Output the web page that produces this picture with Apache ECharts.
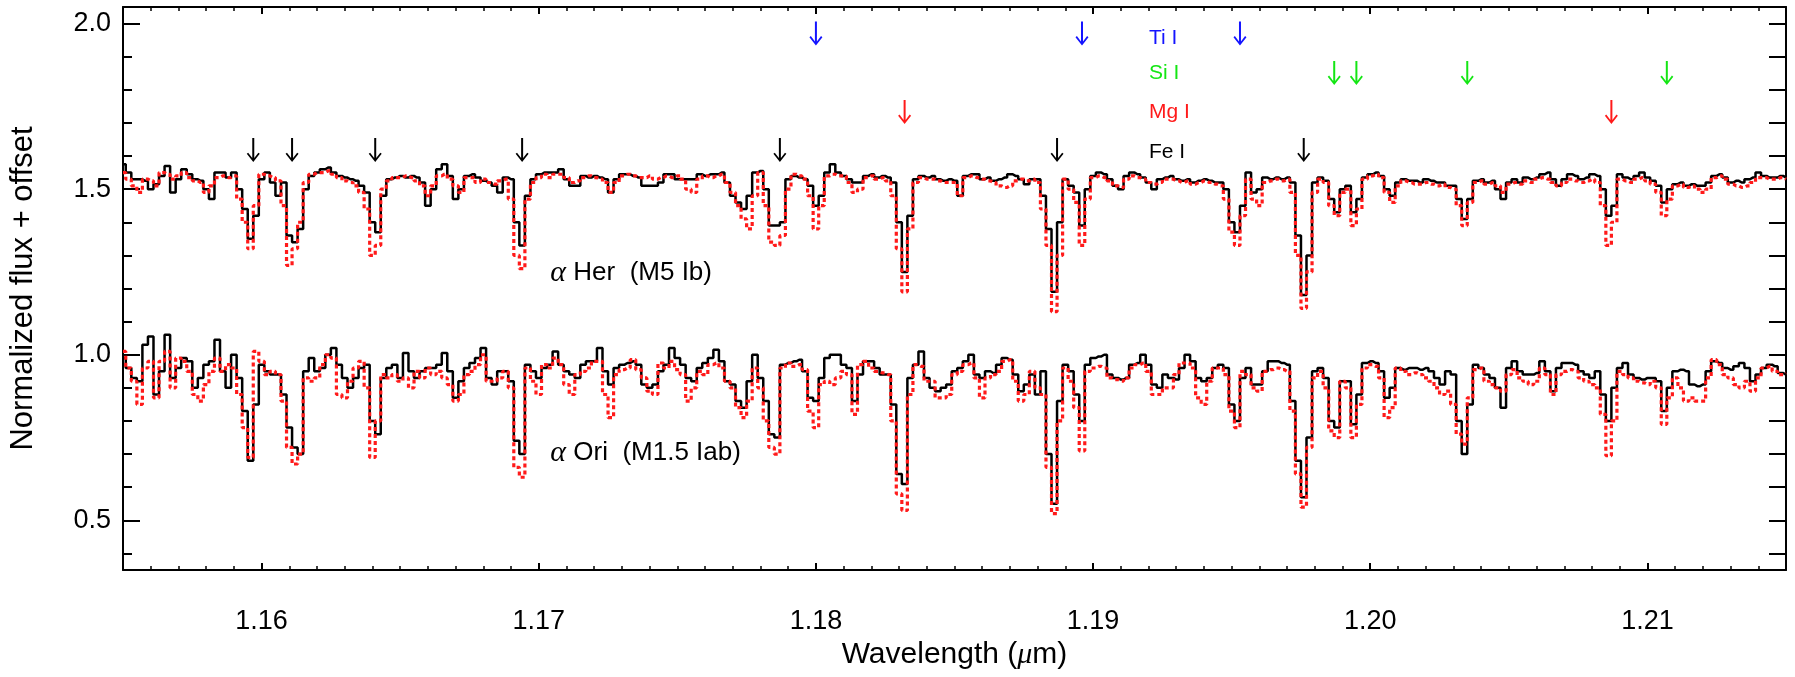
<!DOCTYPE html>
<html><head><meta charset="utf-8">
<script src="https://cdn.jsdelivr.net/npm/echarts/dist/echarts.min.js"></script>
<style>html,body{margin:0;padding:0;background:#fff}#c{width:1795px;height:677px}</style>
</head><body><div id="c"></div>
<script>
// Wavelength grid (micron)
const WAVELENGTH = [
1.1550,1.1552,1.1554,1.1556,1.1558,1.1560,1.1562,1.1564,1.1566,1.1568,
1.1570,1.1572,1.1574,1.1576,1.1578,1.1580,1.1582,1.1584,1.1586,1.1588,
1.1590,1.1592,1.1594,1.1596,1.1598,1.1600,1.1602,1.1604,1.1606,1.1608,
1.1610,1.1612,1.1614,1.1616,1.1618,1.1620,1.1622,1.1624,1.1626,1.1628,
1.1630,1.1632,1.1634,1.1636,1.1638,1.1640,1.1642,1.1644,1.1646,1.1648,
1.1650,1.1652,1.1654,1.1656,1.1658,1.1660,1.1662,1.1664,1.1666,1.1668,
1.1670,1.1672,1.1674,1.1676,1.1678,1.1680,1.1682,1.1684,1.1686,1.1688,
1.1690,1.1692,1.1694,1.1696,1.1698,1.1700,1.1702,1.1704,1.1706,1.1708,
1.1710,1.1712,1.1714,1.1716,1.1718,1.1720,1.1722,1.1724,1.1726,1.1728,
1.1730,1.1732,1.1734,1.1736,1.1738,1.1740,1.1742,1.1744,1.1746,1.1748,
1.1750,1.1752,1.1754,1.1756,1.1758,1.1760,1.1762,1.1764,1.1766,1.1768,
1.1770,1.1772,1.1774,1.1776,1.1778,1.1780,1.1782,1.1784,1.1786,1.1788,
1.1790,1.1792,1.1794,1.1796,1.1798,1.1800,1.1802,1.1804,1.1806,1.1808,
1.1810,1.1812,1.1814,1.1816,1.1818,1.1820,1.1822,1.1824,1.1826,1.1828,
1.1830,1.1832,1.1834,1.1836,1.1838,1.1840,1.1842,1.1844,1.1846,1.1848,
1.1850,1.1852,1.1854,1.1856,1.1858,1.1860,1.1862,1.1864,1.1866,1.1868,
1.1870,1.1872,1.1874,1.1876,1.1878,1.1880,1.1882,1.1884,1.1886,1.1888,
1.1890,1.1892,1.1894,1.1896,1.1898,1.1900,1.1902,1.1904,1.1906,1.1908,
1.1910,1.1912,1.1914,1.1916,1.1918,1.1920,1.1922,1.1924,1.1926,1.1928,
1.1930,1.1932,1.1934,1.1936,1.1938,1.1940,1.1942,1.1944,1.1946,1.1948,
1.1950,1.1952,1.1954,1.1956,1.1958,1.1960,1.1962,1.1964,1.1966,1.1968,
1.1970,1.1972,1.1974,1.1976,1.1978,1.1980,1.1982,1.1984,1.1986,1.1988,
1.1990,1.1992,1.1994,1.1996,1.1998,1.2000,1.2002,1.2004,1.2006,1.2008,
1.2010,1.2012,1.2014,1.2016,1.2018,1.2020,1.2022,1.2024,1.2026,1.2028,
1.2030,1.2032,1.2034,1.2036,1.2038,1.2040,1.2042,1.2044,1.2046,1.2048,
1.2050,1.2052,1.2054,1.2056,1.2058,1.2060,1.2062,1.2064,1.2066,1.2068,
1.2070,1.2072,1.2074,1.2076,1.2078,1.2080,1.2082,1.2084,1.2086,1.2088,
1.2090,1.2092,1.2094,1.2096,1.2098,1.2100,1.2102,1.2104,1.2106,1.2108,
1.2110,1.2112,1.2114,1.2116,1.2118,1.2120,1.2122,1.2124,1.2126,1.2128,
1.2130,1.2132,1.2134,1.2136,1.2138,1.2140,1.2142,1.2144,1.2146,1.2148,
1.2150];

// alpha Her (observed, black) + 0.5 offset
const HER_OBS = [
1.575,1.55,1.53,1.53,1.525,1.50,1.515,1.54,1.57,1.49,
1.53,1.56,1.545,1.53,1.525,1.50,1.47,1.55,1.55,1.535,
1.55,1.50,1.44,1.35,1.42,1.53,1.55,1.52,1.48,1.52,
1.36,1.34,1.38,1.50,1.54,1.55,1.56,1.565,1.55,1.54,
1.535,1.53,1.525,1.51,1.49,1.40,1.37,1.48,1.53,1.535,
1.54,1.535,1.54,1.535,1.52,1.45,1.50,1.56,1.575,1.54,
1.47,1.50,1.54,1.545,1.535,1.525,1.52,1.51,1.49,1.535,
1.53,1.40,1.33,1.48,1.53,1.545,1.55,1.55,1.55,1.56,
1.53,1.51,1.51,1.54,1.535,1.54,1.535,1.53,1.49,1.53,
1.545,1.545,1.54,1.535,1.51,1.51,1.51,1.52,1.545,1.545,
1.53,1.53,1.53,1.53,1.545,1.54,1.545,1.545,1.55,1.52,
1.48,1.46,1.44,1.48,1.55,1.555,1.50,1.39,1.39,1.40,
1.53,1.54,1.535,1.53,1.51,1.45,1.48,1.55,1.575,1.55,
1.54,1.53,1.52,1.52,1.54,1.545,1.535,1.54,1.535,1.52,
1.40,1.25,1.42,1.53,1.54,1.535,1.54,1.53,1.525,1.53,
1.525,1.48,1.54,1.545,1.545,1.53,1.535,1.525,1.53,1.535,
1.545,1.54,1.53,1.515,1.53,1.53,1.48,1.38,1.19,1.40,
1.53,1.51,1.49,1.39,1.50,1.54,1.55,1.545,1.53,1.51,
1.50,1.54,1.55,1.545,1.535,1.52,1.50,1.53,1.535,1.54,
1.53,1.525,1.53,1.52,1.525,1.53,1.525,1.52,1.52,1.50,
1.40,1.37,1.45,1.55,1.49,1.50,1.535,1.53,1.535,1.53,
1.535,1.52,1.36,1.18,1.30,1.52,1.535,1.525,1.47,1.43,
1.50,1.51,1.43,1.47,1.535,1.545,1.55,1.54,1.50,1.48,
1.52,1.53,1.525,1.525,1.52,1.53,1.525,1.52,1.52,1.51,
1.51,1.47,1.41,1.47,1.525,1.53,1.52,1.525,1.50,1.47,
1.52,1.53,1.52,1.535,1.53,1.535,1.545,1.55,1.53,1.51,
1.53,1.545,1.54,1.53,1.535,1.545,1.54,1.50,1.42,1.45,
1.545,1.535,1.53,1.54,1.55,1.535,1.525,1.51,1.46,1.50,
1.515,1.52,1.51,1.515,1.51,1.51,1.52,1.54,1.545,1.535,
1.52,1.525,1.52,1.53,1.535,1.55,1.54,1.535,1.535,1.54,
1.535];

// alpha Her (model, red dotted) + 0.5 offset
const HER_MODEL = [
1.55,1.53,1.51,1.49,1.53,1.525,1.51,1.55,1.545,1.53,
1.54,1.55,1.535,1.525,1.52,1.49,1.51,1.535,1.54,1.535,
1.54,1.47,1.40,1.32,1.45,1.545,1.54,1.535,1.525,1.45,
1.27,1.32,1.40,1.52,1.545,1.55,1.55,1.555,1.545,1.535,
1.525,1.52,1.51,1.49,1.44,1.30,1.33,1.50,1.525,1.535,
1.535,1.54,1.535,1.525,1.51,1.48,1.51,1.54,1.545,1.53,
1.51,1.49,1.535,1.535,1.52,1.53,1.52,1.515,1.525,1.53,
1.47,1.30,1.26,1.47,1.52,1.535,1.545,1.535,1.545,1.545,
1.535,1.52,1.525,1.535,1.54,1.535,1.53,1.52,1.49,1.52,
1.54,1.545,1.54,1.535,1.535,1.54,1.53,1.535,1.54,1.535,
1.54,1.53,1.50,1.49,1.53,1.54,1.535,1.54,1.545,1.52,
1.49,1.45,1.41,1.38,1.48,1.55,1.45,1.34,1.33,1.36,
1.50,1.545,1.54,1.53,1.48,1.38,1.45,1.54,1.545,1.54,
1.54,1.52,1.49,1.50,1.535,1.54,1.53,1.535,1.525,1.48,
1.32,1.19,1.38,1.52,1.535,1.53,1.53,1.525,1.52,1.52,
1.52,1.48,1.535,1.54,1.535,1.53,1.525,1.52,1.51,1.505,
1.51,1.525,1.53,1.525,1.53,1.52,1.44,1.33,1.13,1.30,
1.53,1.50,1.46,1.33,1.47,1.535,1.54,1.535,1.525,1.51,
1.505,1.53,1.54,1.535,1.53,1.52,1.515,1.52,1.53,1.53,
1.525,1.52,1.525,1.515,1.52,1.525,1.52,1.515,1.51,1.47,
1.37,1.33,1.42,1.53,1.47,1.45,1.52,1.525,1.53,1.525,
1.53,1.49,1.30,1.14,1.25,1.49,1.53,1.52,1.45,1.42,
1.49,1.50,1.39,1.44,1.53,1.54,1.545,1.535,1.49,1.46,
1.51,1.525,1.52,1.515,1.515,1.52,1.515,1.51,1.515,1.505,
1.50,1.45,1.39,1.46,1.52,1.525,1.515,1.52,1.51,1.49,
1.515,1.52,1.515,1.525,1.52,1.53,1.535,1.53,1.52,1.51,
1.52,1.53,1.525,1.52,1.525,1.53,1.52,1.45,1.33,1.40,
1.53,1.525,1.52,1.53,1.535,1.525,1.515,1.49,1.42,1.47,
1.51,1.515,1.505,1.51,1.50,1.49,1.50,1.535,1.54,1.53,
1.515,1.51,1.505,1.51,1.52,1.535,1.535,1.53,1.53,1.535,
1.53];

// alpha Ori (observed, black)
const ORI_OBS = [
0.99,0.96,0.93,0.92,1.03,1.055,0.88,0.95,1.06,0.93,
0.96,0.99,0.98,0.90,0.93,0.97,0.98,1.045,0.95,0.90,
1.00,0.93,0.83,0.68,0.85,0.97,0.95,0.94,0.94,0.88,
0.78,0.72,0.70,0.95,0.99,0.95,0.96,1.00,1.02,0.97,
0.93,0.90,0.93,0.96,0.97,0.80,0.76,0.93,0.96,0.97,
0.93,1.005,0.95,0.93,0.95,0.96,0.96,0.97,1.005,0.95,
0.87,0.92,0.96,0.975,0.99,1.02,0.93,0.91,0.95,0.95,
0.92,0.74,0.70,0.97,0.95,0.93,0.96,0.97,1.01,0.97,
0.95,0.94,0.93,0.97,0.98,0.98,1.02,0.95,0.91,0.96,
0.97,0.975,0.98,0.97,0.91,0.90,0.91,0.95,0.97,1.02,
0.99,0.97,0.93,0.92,0.96,0.975,0.99,1.015,0.98,0.92,
0.91,0.86,0.84,0.92,1.00,0.93,0.86,0.76,0.75,0.97,
0.975,0.98,0.985,0.95,0.87,0.86,0.93,0.99,1.00,1.00,
0.97,0.96,0.86,0.94,0.98,0.98,0.96,0.94,0.94,0.85,
0.64,0.61,0.93,0.97,1.01,0.93,0.90,0.89,0.90,0.91,
0.95,0.96,0.98,1.00,0.94,0.93,0.95,0.945,0.97,0.99,
0.985,0.94,0.89,0.91,0.94,0.88,0.95,0.70,0.55,0.86,
0.97,0.95,0.88,0.80,0.97,0.99,0.995,1.00,0.94,0.93,
0.925,0.93,0.97,0.975,1.00,0.97,0.91,0.90,0.94,0.93,
0.925,0.96,1.00,0.98,0.93,0.92,0.93,0.96,0.97,0.96,
0.85,0.80,0.93,0.96,0.91,0.91,0.95,0.98,0.98,0.975,
0.97,0.86,0.68,0.57,0.75,0.95,0.96,0.93,0.80,0.78,
0.92,0.92,0.79,0.88,0.975,0.98,0.975,0.95,0.87,0.90,
0.96,0.955,0.96,0.96,0.955,0.96,0.95,0.93,0.91,0.95,
0.94,0.80,0.70,0.85,0.97,0.96,0.94,0.93,0.90,0.84,
0.96,0.98,0.95,0.94,0.94,0.945,0.98,0.95,0.89,0.96,
0.975,0.975,0.97,0.95,0.94,0.93,0.95,0.88,0.80,0.90,
0.96,0.975,0.94,0.93,0.925,0.93,0.93,0.92,0.83,0.90,
0.95,0.955,0.95,0.91,0.905,0.91,0.95,0.98,0.975,0.96,
0.955,0.965,0.975,0.96,0.92,0.94,0.96,0.97,0.965,0.945,
0.94];

// alpha Ori (model, red dotted)
const ORI_MODEL = [
1.01,0.96,0.92,0.85,0.96,0.98,0.87,0.98,1.01,0.90,
0.99,0.98,0.95,0.88,0.86,0.91,0.95,0.99,0.95,0.97,
0.96,0.88,0.78,0.69,1.01,0.98,0.94,0.95,0.94,0.86,
0.72,0.67,0.70,0.93,0.92,0.93,0.97,1.00,0.99,0.88,
0.87,0.92,0.96,0.98,0.90,0.69,0.80,0.94,0.93,0.94,
0.92,0.93,0.90,0.95,0.93,0.96,0.94,0.95,0.93,0.91,
0.86,0.88,0.94,0.95,0.97,1.00,0.92,0.92,0.93,0.95,
0.90,0.66,0.63,0.96,0.92,0.88,0.97,0.96,0.99,0.97,
0.91,0.88,0.94,0.95,0.96,0.98,0.98,0.88,0.81,0.94,
0.955,0.96,0.985,0.955,0.93,0.89,0.88,0.975,0.96,0.98,
0.955,0.94,0.86,0.90,0.95,0.94,0.97,0.975,0.96,0.92,
0.90,0.84,0.81,0.86,0.96,0.90,0.80,0.72,0.70,0.96,
0.975,0.965,0.97,0.955,0.83,0.78,0.91,0.92,0.91,0.93,
0.95,0.94,0.82,0.97,0.98,0.96,0.95,0.945,0.94,0.80,
0.58,0.53,0.88,0.97,0.965,0.92,0.92,0.87,0.87,0.88,
0.94,0.95,0.97,0.975,0.93,0.87,0.93,0.94,0.95,0.98,
0.985,0.92,0.86,0.88,0.95,0.90,0.88,0.66,0.52,0.80,
0.96,0.92,0.84,0.71,0.95,0.96,0.965,0.96,0.93,0.925,
0.92,0.93,0.96,0.97,0.975,0.95,0.88,0.88,0.90,0.90,
0.94,0.975,0.975,0.96,0.87,0.85,0.92,0.96,0.96,0.94,
0.83,0.78,0.95,0.94,0.90,0.89,0.95,0.955,0.96,0.955,
0.95,0.83,0.64,0.54,0.72,0.93,0.95,0.90,0.77,0.75,
0.92,0.90,0.75,0.85,0.96,0.97,0.965,0.93,0.81,0.84,
0.96,0.95,0.94,0.945,0.94,0.93,0.92,0.90,0.88,0.89,
0.85,0.76,0.73,0.87,0.955,0.96,0.92,0.91,0.90,0.89,
0.94,0.955,0.93,0.92,0.91,0.92,0.96,0.94,0.88,0.94,
0.95,0.955,0.95,0.93,0.92,0.91,0.90,0.82,0.695,0.80,
0.95,0.94,0.93,0.92,0.915,0.91,0.92,0.90,0.79,0.87,
0.93,0.90,0.86,0.87,0.86,0.86,0.93,0.985,0.97,0.94,
0.93,0.91,0.90,0.92,0.89,0.93,0.96,0.965,0.95,0.94,
0.945];

// Line identifications
const ELEMENTS = ['Ti I', 'Si I', 'Mg I', 'Fe I'];
const ELEMENT_COLORS = ['#1414ff', '#14e614', '#ff1a1a', '#000000'];
const TI_LINES = [1.1800, 1.1896, 1.1953];
const SI_LINES = [1.1987, 1.1995, 1.2035, 1.2107];
const MG_LINES = [1.1832, 1.2087];
const FE_LINES = [1.1597, 1.1611, 1.1641, 1.1694, 1.1787, 1.1887, 1.1976];
const ARROW_LEVELS = [1.970, 1.851, 1.733, 1.618];
const LABEL_LEVELS = [1.957, 1.849, 1.733, 1.612];
const LABEL_WAVELENGTH = 1.1920;

// Star annotations
const STAR_NAMES = ['Her  (M5 Ib)', 'Ori  (M1.5 Iab)'];
const STAR_WAVE = [1.1704, 1.1704];
const STAR_FLUX = [1.247, 0.704];

const FONT = '"Liberation Sans", Helvetica, Arial, sans-serif';
const LINES_BY_ELEMENT = [TI_LINES, SI_LINES, MG_LINES, FE_LINES];
const ARROW_PATH = 'path://M5.5,0 L7.5,0 L7.5,20 L11.6,14.6 L13,15.8 L6.5,24 L0,15.8 L1.4,14.6 L5.5,20 Z';

const pairs = (arr) => WAVELENGTH.map((w, i) => [w, arr[i]]);

const chart = echarts.init(document.getElementById('c'), null, {renderer: 'canvas'});

const isMult = (v, step) => Math.abs(v / step - Math.round(v / step)) < 1e-6;

const baseX = {
  type: 'value', min: 1.155, max: 1.215, splitNumber: 6, scale: true,
  axisLine: {show: true, onZero: false, lineStyle: {color: '#000', width: 2}},
  axisTick: {show: true, inside: true, length: 7, lineStyle: {color: '#000', width: 2}},
  minorTick: {show: true, splitNumber: 10, length: 4, lineStyle: {color: '#000', width: 1.5}},
  splitLine: {show: false}, minorSplitLine: {show: false}
};
const baseY = {
  type: 'value', min: 0.35, max: 2.05, splitNumber: 3, scale: true,
  axisLine: {show: true, onZero: false, lineStyle: {color: '#000', width: 2}},
  axisTick: {show: true, inside: true, length: 17, lineStyle: {color: '#000', width: 2}},
  minorTick: {show: true, splitNumber: 5, length: 9, lineStyle: {color: '#000', width: 2}},
  splitLine: {show: false}, minorSplitLine: {show: false}
};

const series = [
  {type: 'line', name: 'Her obs', data: pairs(HER_OBS), step: 'middle', showSymbol: false, symbol: 'none',
   lineStyle: {color: '#000', width: 2.5}, z: 2, silent: true},
  {type: 'line', name: 'Ori obs', data: pairs(ORI_OBS), step: 'middle', showSymbol: false, symbol: 'none',
   lineStyle: {color: '#000', width: 2.5}, z: 2, silent: true},
  {type: 'line', name: 'Her model', data: pairs(HER_MODEL), step: 'middle', showSymbol: false, symbol: 'none',
   lineStyle: {color: '#ff1a1a', width: 3.2, type: [4, 3]}, z: 3, silent: true},
  {type: 'line', name: 'Ori model', data: pairs(ORI_MODEL), step: 'middle', showSymbol: false, symbol: 'none',
   lineStyle: {color: '#ff1a1a', width: 3.2, type: [4, 3]}, z: 3, silent: true}
];

const HIDDEN_DOT = {color: 'rgba(255,255,255,0)', borderWidth: 0, opacity: 1};

ELEMENTS.forEach((el, k) => {
  series.push({
    type: 'scatter', silent: true, z: 5,
    symbol: ARROW_PATH, symbolSize: [13, 24],
    itemStyle: {color: ELEMENT_COLORS[k], opacity: 1},
    data: LINES_BY_ELEMENT[k].map(w => [w, ARROW_LEVELS[k]])
  });
  series.push({
    type: 'scatter', silent: true, z: 5, symbol: 'circle', symbolSize: 1,
    itemStyle: HIDDEN_DOT,
    label: {show: true, position: 'right', distance: 0, formatter: el, opacity: 1,
            color: ELEMENT_COLORS[k], fontSize: 21, fontFamily: FONT},
    data: [[LABEL_WAVELENGTH, LABEL_LEVELS[k]]]
  });
});

series.push({
  type: 'scatter', silent: true, z: 5, symbol: 'circle', symbolSize: 1,
  itemStyle: HIDDEN_DOT,
  label: {show: true, position: 'right', distance: 0, opacity: 1,
          formatter: (p) => '{g|α} ' + STAR_NAMES[p.dataIndex],
          color: '#000', fontSize: 26, fontFamily: FONT,
          rich: {g: {fontStyle: 'italic', fontFamily: '"Liberation Serif", "DejaVu Serif", serif', fontSize: 30, color: '#000'}}},
  data: STAR_WAVE.map((w, i) => [w, STAR_FLUX[i]])
});

chart.setOption({
  animation: false,
  backgroundColor: '#fff',
  grid: {left: 122, right: 9, top: 7, bottom: 107, containLabel: false},
  xAxis: [
    Object.assign({}, baseX, {
      position: 'bottom',
      axisLabel: {show: true, margin: 38, fontSize: 27, color: '#000', fontFamily: FONT,
                  formatter: v => isMult(v, 0.01) ? v.toFixed(2) : ''},
      name: 'Wavelength ({it|μ}m)', nameLocation: 'middle', nameGap: 70,
      nameTextStyle: {fontSize: 30, color: '#000', fontFamily: FONT,
                      rich: {it: {fontStyle: 'italic', fontSize: 30, fontFamily: '"Liberation Serif", serif', color: '#000'}}}
    }),
    Object.assign({}, baseX, {position: 'top', axisLabel: {show: false}})
  ],
  yAxis: [
    Object.assign({}, baseY, {
      position: 'left',
      axisLabel: {show: true, margin: 12, fontSize: 27, color: '#000', fontFamily: FONT,
                  formatter: v => isMult(v, 0.5) ? v.toFixed(1) : ''},
      name: 'Normalized flux + offset', nameLocation: 'middle', nameGap: 84,
      nameTextStyle: {fontSize: 31, color: '#000', fontFamily: FONT}
    }),
    Object.assign({}, baseY, {position: 'right', axisLabel: {show: false},
      axisTick: {show: true, inside: true, length: 17, lineStyle: {color: '#000', width: 2}},
      minorTick: {show: true, splitNumber: 5, length: 17, lineStyle: {color: '#000', width: 2}}})
  ],
  series: series
});
</script>
</body></html>
